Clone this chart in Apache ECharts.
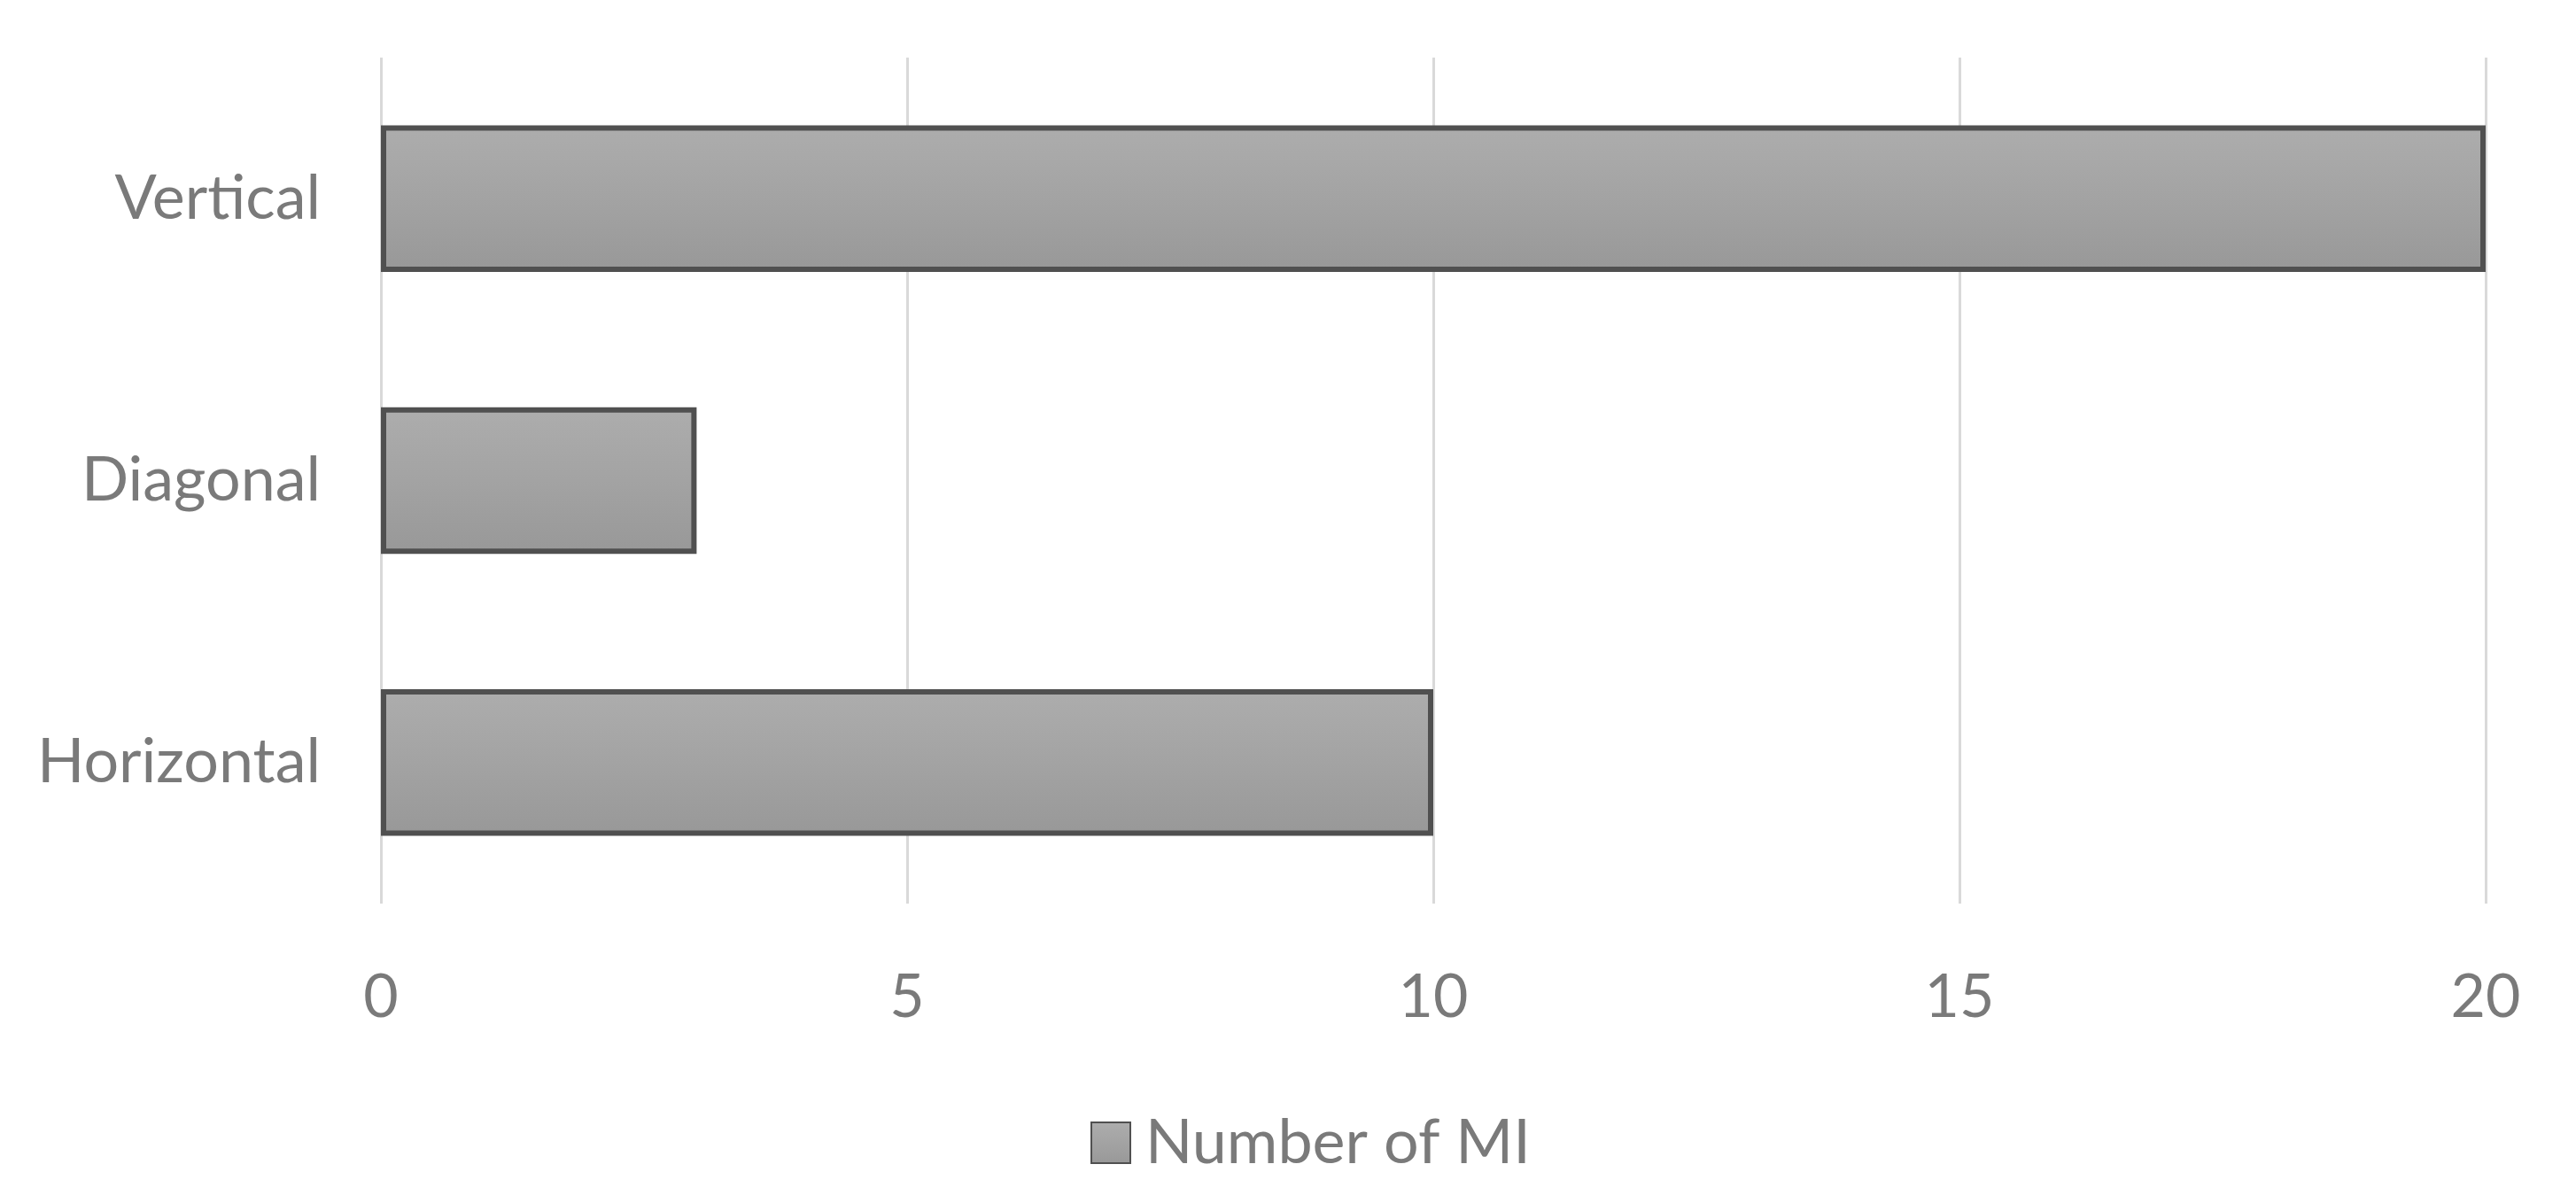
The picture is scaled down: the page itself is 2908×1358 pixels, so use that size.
<!DOCTYPE html>
<html>
<head>
<meta charset="utf-8">
<script src="https://cdn.jsdelivr.net/npm/echarts@6/dist/echarts.min.js"></script>
<style>
  html, body { margin: 0; padding: 0; background: #fff; }
  #chart { width: 2908px; height: 1358px; }
</style>
</head>
<body>
<div id="chart"></div>
<script>
    var categories = ['Horizontal', 'Diagonal', 'Vertical'];
    var miCounts = [10, 3, 20];
    var seriesName = 'Number of MI';

    var textColor = '#7a7a7a';
    var fontFamily = 'Lato, "Open Sans", sans-serif';

    var barFill = new echarts.graphic.LinearGradient(0, 0, 0, 1, [
        {offset: 0, color: '#adadad'},
        {offset: 0.5, color: '#a3a3a3'},
        {offset: 1, color: '#989898'}
    ]);

    var chart = echarts.init(document.getElementById('chart'), null, {renderer: 'canvas'});
    chart.setOption({
        animation: false,
        backgroundColor: '#ffffff',
        grid: {
            left: 430,
            right: 102,
            top: 65,
            bottom: 338
        },
        xAxis: {
            type: 'value',
            min: 0,
            max: 20,
            interval: 5,
            axisLine: {show: false},
            axisTick: {show: false},
            splitLine: {
                lineStyle: {color: '#d9d9d9', width: 3}
            },
            axisLabel: {
                color: textColor,
                fontFamily: fontFamily,
                fontSize: 68,
                margin: 72
            }
        },
        yAxis: {
            type: 'category',
            data: categories,
            axisLine: {show: false},
            axisTick: {show: false},
            axisLabel: {
                color: textColor,
                fontFamily: fontFamily,
                fontSize: 70,
                margin: 68
            }
        },
        legend: {
            bottom: 28,
            left: 1226,
            icon: 'rect',
            itemWidth: 44,
            itemHeight: 46,
            textStyle: {
                color: textColor,
                fontFamily: fontFamily,
                fontSize: 70,
                padding: [0, 0, 0, 12]
            },
            data: [seriesName]
        },
        series: [{
            name: seriesName,
            type: 'bar',
            data: miCounts,
            barCategoryGap: '48%',
            itemStyle: {
                color: barFill,
                borderColor: '#505050',
                borderWidth: 6
            }
        }]
    });
</script>
</body>
</html>
